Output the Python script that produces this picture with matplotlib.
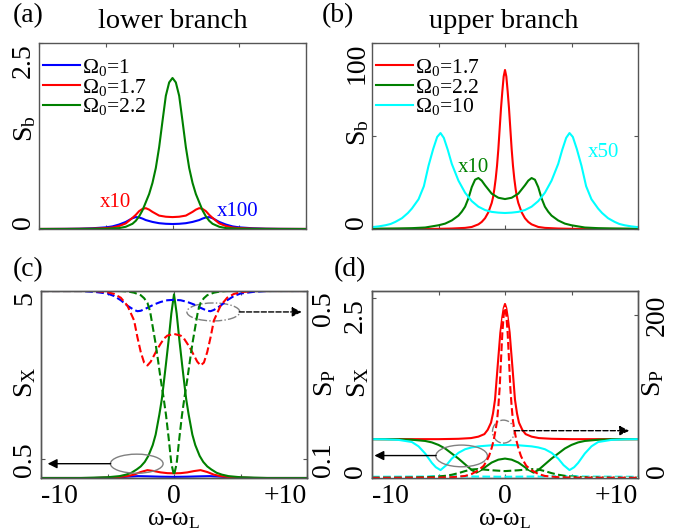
import matplotlib
matplotlib.use('Agg')
import matplotlib.pyplot as plt
from matplotlib.patches import Ellipse

plt.rcParams['font.family'] = 'Liberation Serif'
plt.rcParams['mathtext.fontset'] = 'custom'
plt.rcParams['mathtext.rm'] = 'Liberation Serif'
plt.rcParams['mathtext.it'] = 'Liberation Serif:italic'
plt.rcParams['mathtext.bf'] = 'Liberation Serif:bold'

# ---------------- datos ----------------
# (a) lower branch, S_b  (rojo x10, azul x100)
xa_blue = [-10, -8, -7, -6, -5, -4.5, -4, -3.5, -3.25, -3, -2.75, -2.5, -2.25, -2, -1.5, -1, -0.5,
           0, 0.5, 1, 1.5, 2, 2.25, 2.5, 2.75, 3, 3.25, 3.5, 4, 4.5, 5, 6, 7, 8, 10]
sa_blue = [0, 0.002, 0.004, 0.01, 0.022, 0.035, 0.06, 0.095, 0.12, 0.145, 0.16, 0.155, 0.14, 0.12, 0.095, 0.078, 0.07,
           0.067, 0.07, 0.078, 0.095, 0.12, 0.14, 0.155, 0.16, 0.145, 0.12, 0.095, 0.06, 0.035, 0.022, 0.01, 0.004, 0.002, 0]
xa_red = [-10, -8, -7, -6, -5, -4.5, -4, -3.5, -3, -2.75, -2.5, -2.25, -2, -1.75, -1.5, -1, -0.5,
          0, 0.5, 1, 1.5, 1.75, 2, 2.25, 2.5, 2.75, 3, 3.5, 4, 4.5, 5, 6, 7, 8, 10]
sa_red = [0.001, 0.002, 0.003, 0.005, 0.012, 0.02, 0.04, 0.075, 0.15, 0.19, 0.24, 0.27, 0.28, 0.26, 0.23, 0.18, 0.165,
          0.16, 0.165, 0.18, 0.23, 0.26, 0.28, 0.27, 0.24, 0.19, 0.15, 0.075, 0.04, 0.02, 0.012, 0.005, 0.003, 0.002, 0.001]
xa_green = [-10, -8, -7, -6, -5, -4, -3.5, -3, -2.75, -2.5, -2.25, -2, -1.75, -1.5, -1.25, -1, -0.75, -0.5, -0.25,
            0, 0.25, 0.5, 0.75, 1, 1.25, 1.5, 1.75, 2, 2.25, 2.5, 2.75, 3, 3.5, 4, 5, 6, 7, 8, 10]
sa_green = [0, 0, 0.001, 0.002, 0.004, 0.012, 0.03, 0.07, 0.11, 0.17, 0.25, 0.36, 0.47, 0.62, 0.82, 1.1, 1.45, 1.79, 1.97,
            2.03, 1.97, 1.79, 1.45, 1.1, 0.82, 0.62, 0.47, 0.36, 0.25, 0.17, 0.11, 0.07, 0.03, 0.012, 0.004, 0.002, 0.001, 0, 0]

# (b) upper branch, S_b  (verde x10, cian x50)
xb_red = [-10, -8, -6, -5, -4, -3, -2.5, -2, -1.75, -1.5, -1.25, -1, -0.9, -0.8, -0.7, -0.6, -0.5, -0.4, -0.3, -0.2, -0.1,
          0, 0.1, 0.2, 0.3, 0.4, 0.5, 0.6, 0.7, 0.8, 0.9, 1, 1.25, 1.5, 1.75, 2, 2.5, 3, 4, 5, 6, 8, 10]
sb_red = [0.05, 0.05, 0.05, 0.1, 0.25, 0.6, 1.1, 2.5, 3.8, 5.8, 9, 14, 17, 21.5, 27, 34, 43, 54, 65, 74, 82,
          85.5, 82, 74, 65, 54, 43, 34, 27, 21.5, 17, 14, 9, 5.8, 3.8, 2.5, 1.1, 0.6, 0.25, 0.1, 0.05, 0.05, 0.05]
xb_green = [-10, -9, -8, -7, -6, -5, -4.5, -4, -3.5, -3.25, -3, -2.75, -2.5, -2.25, -2, -1.75, -1.5, -1, -0.5,
            0, 0.5, 1, 1.5, 1.75, 2, 2.25, 2.5, 2.75, 3, 3.25, 3.5, 4, 4.5, 5, 6, 7, 8, 9, 10]
sb_green = [0.15, 0.2, 0.3, 0.45, 0.8, 2.0, 2.9, 4.6, 7.2, 9.3, 12, 16.5, 22.5, 26.5, 27.4, 26, 23.5, 19, 16.8,
            16.1, 16.8, 19, 23.5, 26, 27.4, 26.5, 22.5, 16.5, 12, 9.3, 7.2, 4.6, 2.9, 2.0, 0.8, 0.45, 0.3, 0.2, 0.15]
xb_cyan = [-10, -9.5, -9, -8.6, -8.25, -7.75, -7.3, -7, -6.5, -6.1, -5.75, -5.4, -5.1, -4.85, -4.6, -4.3, -4, -3.5, -3,
           -2.5, -2, -1.5, -1, -0.5, 0, 0.5, 1, 1.5, 2, 2.5, 3, 3.5, 4, 4.3, 4.6, 4.85, 5.1, 5.4, 5.75, 6.1, 6.5, 7,
           7.3, 7.75, 8.25, 8.6, 9, 9.5, 10]
sb_cyan = [1.0, 1.4, 2.0, 2.7, 3.8, 5.8, 8.6, 11, 16, 23, 34, 43, 49.5, 51.6, 49, 42.5, 35, 26, 19.5,
           15, 12, 10.2, 9.2, 8.8, 8.6, 8.8, 9.2, 10.2, 12, 15, 19.5, 26, 35, 42.5, 49, 51.6, 49.5, 43, 34, 23, 16, 11,
           8.6, 5.8, 3.8, 2.7, 2.0, 1.4, 1.0]

# (c) lower branch: S_X (solido, eje izq.) y S_P (discontinuo, eje der.)
xc_blue = [-10, -6, -5, -4, -3.5, -2.7, -2, -1, 0, 1, 2, 2.7, 3.5, 4, 5, 6, 10]
sxc_blue = [0, 0, 0.008, 0.02, 0.035, 0.05, 0.045, 0.035, 0.03, 0.035, 0.045, 0.05, 0.035, 0.02, 0.008, 0, 0]
xc_red = [-10, -6, -5, -4, -3.5, -3, -2.5, -2, -1.5, -1, -0.5, 0, 0.5, 1, 1.5, 2, 2.5, 3, 3.5, 4, 5, 6, 10]
sxc_red = [0, 0, 0.01, 0.03, 0.05, 0.09, 0.16, 0.21, 0.185, 0.15, 0.13, 0.125, 0.13, 0.15, 0.185, 0.21, 0.16,
           0.09, 0.05, 0.03, 0.01, 0, 0]
xc_green = [-10, -7, -6, -5, -4.1, -3.6, -3.2, -2.8, -2.5, -2.2, -1.93, -1.6, -1.38, -1.1, -0.92, -0.8, -0.62, -0.4, -0.2,
            0, 0.2, 0.4, 0.62, 0.8, 0.92, 1.1, 1.38, 1.6, 1.93, 2.2, 2.5, 2.8, 3.2, 3.6, 4.1, 5, 6, 7, 10]
sxc_green = [0, 0, 0.01, 0.02, 0.05, 0.09, 0.14, 0.23, 0.31, 0.43, 0.59, 0.88, 1.16, 1.7, 2.1, 2.45, 3.0, 3.7, 4.4,
             4.91, 4.4, 3.7, 3.0, 2.45, 2.1, 1.7, 1.16, 0.88, 0.59, 0.43, 0.31, 0.23, 0.14, 0.09, 0.05, 0.02, 0.01, 0, 0]
xpc_blue = [-10, -7, -6, -5, -4.5, -4, -3.5, -3, -2.75, -2.5, -2, -1.5, -1, -0.5,
            0, 0.5, 1, 1.5, 2, 2.5, 2.75, 3, 3.5, 4, 4.5, 5, 6, 7, 10]
spc_blue = [0.5, 0.5, 0.498, 0.494, 0.488, 0.478, 0.465, 0.455, 0.452, 0.453, 0.46, 0.468, 0.474, 0.478,
            0.479, 0.478, 0.474, 0.468, 0.46, 0.453, 0.452, 0.455, 0.465, 0.478, 0.488, 0.494, 0.498, 0.5, 0.5]
xpc_red = [-10, -6, -5, -4.5, -4, -3.5, -3, -2.75, -2.5, -2.25, -2, -1.75, -1.5, -1.25, -1, -0.75, -0.5,
           0, 0.5, 0.75, 1, 1.25, 1.5, 1.75, 2, 2.25, 2.5, 2.75, 3, 3.5, 4, 4.5, 5, 6, 10]
spc_red = [0.5, 0.5, 0.497, 0.493, 0.484, 0.465, 0.43, 0.39, 0.355, 0.33, 0.323, 0.332, 0.347, 0.362, 0.375, 0.387, 0.394,
           0.398, 0.394, 0.387, 0.375, 0.362, 0.347, 0.332, 0.323, 0.33, 0.355, 0.39, 0.43, 0.465, 0.484, 0.493, 0.497,
           0.5, 0.5]
xpc_green = [-10, -4, -3.5, -3, -2.5, -2.25, -2, -1.8, -1.6, -1.4, -1.2, -1, -0.8, -0.6, -0.4, -0.2,
             0, 0.2, 0.4, 0.6, 0.8, 1, 1.2, 1.4, 1.6, 1.8, 2, 2.25, 2.5, 3, 3.5, 4, 10]
spc_green = [0.5, 0.5, 0.499, 0.496, 0.49, 0.483, 0.472, 0.452, 0.415, 0.378, 0.335, 0.29, 0.25, 0.205, 0.15, 0.09,
             0.062, 0.09, 0.15, 0.205, 0.25, 0.29, 0.335, 0.378, 0.415, 0.452, 0.472, 0.483, 0.49, 0.496, 0.499, 0.5, 0.5]

# (d) upper branch: S_X (solido, eje izq.) y S_P (discontinuo, eje der.)
xd_red = [-10, -5, -3.5, -2.55, -2, -1.55, -1.3, -1.05, -0.9, -0.75, -0.55, -0.35, -0.2, -0.1,
          0, 0.1, 0.2, 0.35, 0.55, 0.75, 0.9, 1.05, 1.3, 1.55, 2, 2.55, 3.5, 5, 10]
sxd_red = [0.54, 0.54, 0.545, 0.555, 0.575, 0.61, 0.67, 0.77, 0.9, 1.09, 1.56, 2.02, 2.24, 2.36,
           2.42, 2.36, 2.24, 2.02, 1.56, 1.09, 0.9, 0.77, 0.67, 0.61, 0.575, 0.555, 0.545, 0.54, 0.54]
xd_green = [-10, -8, -7, -6, -5.5, -5, -4.5, -4, -3.5, -3, -2.75, -2.5, -2.15, -1.8, -1.5, -1, -0.5,
            0, 0.5, 1, 1.5, 1.8, 2.15, 2.5, 2.75, 3, 3.5, 4, 4.5, 5, 5.5, 6, 7, 8, 10]
sxd_green = [0.54, 0.538, 0.532, 0.515, 0.495, 0.46, 0.41, 0.34, 0.27, 0.19, 0.15, 0.11, 0.075, 0.11, 0.15, 0.215, 0.255,
             0.27, 0.255, 0.215, 0.15, 0.11, 0.075, 0.11, 0.15, 0.19, 0.27, 0.34, 0.41, 0.46, 0.495, 0.515, 0.532, 0.538,
             0.54]
xd_cyan = [-10, -9, -8, -7, -6.5, -6.25, -6, -5.5, -5.2, -4.85, -4.4, -4, -3.5, -3, -2.5, -2, -1,
           0, 1, 2, 2.5, 3, 3.5, 4, 4.4, 4.85, 5.2, 5.5, 6, 6.25, 6.5, 7, 8, 9, 10]
sxd_cyan = [0.54, 0.538, 0.53, 0.5, 0.44, 0.39, 0.34, 0.21, 0.15, 0.11, 0.18, 0.27, 0.35, 0.4, 0.425, 0.44, 0.455,
            0.46, 0.455, 0.44, 0.425, 0.4, 0.35, 0.27, 0.18, 0.11, 0.15, 0.21, 0.34, 0.39, 0.44, 0.5, 0.53, 0.538, 0.54]
xpd_red = [-10, -5, -4, -3, -2.5, -2.2, -2, -1.6, -1.35, -1.2, -1, -0.85, -0.7, -0.6, -0.5, -0.4, -0.28, -0.2, -0.1,
           0, 0.1, 0.2, 0.28, 0.4, 0.5, 0.6, 0.7, 0.85, 1, 1.2, 1.35, 1.6, 2, 2.2, 2.5, 3, 4, 5, 10]
spd_red = [0.3, 0.5, 1, 2.5, 5, 7.7, 9.5, 15, 22, 27, 37, 46.7, 60, 70, 88, 111, 152, 178, 200,
           209, 200, 178, 152, 111, 88, 70, 60, 46.7, 37, 27, 22, 15, 9.5, 7.7, 5, 2.5, 1, 0.5, 0.3]
xpd_green = [-10, -8, -7, -6, -5, -4.5, -4, -3.5, -3, -2.5, -2, -1, 0, 1, 2, 2.5, 3, 3.5, 4, 4.5, 5, 6, 7, 8, 10]
spd_green = [0.3, 0.4, 0.6, 1.0, 1.8, 2.7, 4, 6, 8.5, 10.5, 11, 9.5, 8.5, 9.5, 11, 10.5, 8.5, 6, 4, 2.7, 1.8, 1.0, 0.6,
             0.4, 0.3]
xpd_cyan = [-10, -6, -4.85, -3.5, 0, 3.5, 4.85, 6, 10]
spd_cyan = [1.5, 1.8, 2.5, 2.0, 1.5, 2.0, 2.5, 1.8, 1.5]

AZUL, ROJO, VERDE, CIAN = '#0000ff', '#ff0000', '#008000', '#00ffff'
GRIS = '#555555'
LW = 1.5

fig = plt.figure(figsize=(6.82, 5.32), dpi=100)


# ejes a partir de pixeles (izq, der, arriba, abajo)
def ejes_px(l, r, t, b):
    return fig.add_axes([l / 682, 1 - b / 532, (r - l) / 682, (b - t) / 532])


def marco(ax):
    for s in ax.spines.values():
        s.set_color(GRIS)
        s.set_linewidth(1.0)
    ax.tick_params(direction='in', length=3, width=0.8, color=GRIS, labelsize=20)


def eje_x(ax, etiquetas):
    ax.set_xlim(-10, 10)
    if etiquetas:
        ax.set_xticks([-10, -5, 0, 5, 10], ['-10', '', '0', '', '+10'])
        ticks = ax.xaxis.get_major_ticks()
        ticks[0].label1.set_ha('left')
        ticks[-1].label1.set_ha('right')
    else:
        ax.set_xticks([-10, -5, 0, 5, 10], [''] * 5)
    ax.tick_params(axis='x', top=True, pad=4)


def eje_y(ax, lim, ticks, labels, va, pad):
    ax.set_ylim(*lim)
    ax.set_yticks(ticks, labels)
    ax.tick_params(axis='y', labelrotation=90, pad=pad)
    for t, v in zip(ax.yaxis.get_major_ticks(), va):
        t.label1.set_va(v)
        t.label2.set_va(v)


def leyenda(ax):
    ax.legend(loc='upper left', bbox_to_anchor=(0.0, 0.95), frameon=False, fontsize=15.5,
              handlelength=1.7, handletextpad=0.1, labelspacing=-0.05, borderaxespad=0, borderpad=0.2)


# ---------------- (a) ----------------
ax_a = ejes_px(39, 306, 43, 229)
ax_a.plot(xa_blue, sa_blue, color=AZUL, lw=LW, label='Ω$_0$=1')
ax_a.plot(xa_red, sa_red, color=ROJO, lw=LW, label='Ω$_0$=1.7')
ax_a.plot(xa_green, sa_green, color=VERDE, lw=LW, label='Ω$_0$=2.2')
marco(ax_a)
eje_x(ax_a, False)
eje_y(ax_a, (0, 2.5), [0, 2.5], ['0', '2.5'], ['bottom', 'top'], 2)
ax_a.tick_params(axis='y', right=True)
ax_a.set_ylabel('S$_\\mathrm{b}$', fontsize=20)
ax_a.yaxis.label.set_va('center')
ax_a.yaxis.set_label_coords(-0.052, 0.54)
leyenda(ax_a)
ax_a.text(-4.25, 0.35, 'x10', color=ROJO, fontsize=15, ha='center', va='center')
ax_a.text(4.85, 0.23, 'x100', color=AZUL, fontsize=15, ha='center', va='center')

# ---------------- (b) ----------------
ax_b = ejes_px(372, 638, 43, 229)
ax_b.plot(xb_red, sb_red, color=ROJO, lw=LW, label='Ω$_0$=1.7')
ax_b.plot(xb_green, sb_green, color=VERDE, lw=LW, label='Ω$_0$=2.2')
ax_b.plot(xb_cyan, sb_cyan, color=CIAN, lw=LW, label='Ω$_0$=10')
marco(ax_b)
eje_x(ax_b, False)
eje_y(ax_b, (0, 100), [0, 50, 100], ['0', '', '100'], ['bottom', 'center', 'top'], 2)
ax_b.tick_params(axis='y', right=True)
ax_b.set_ylabel('S$_\\mathrm{b}$', fontsize=20)
ax_b.yaxis.label.set_va('center')
ax_b.yaxis.set_label_coords(-0.053, 0.52)
leyenda(ax_b)
ax_b.text(-2.4, 33.3, 'x10', color=VERDE, fontsize=15, ha='center', va='center')
ax_b.text(7.44, 40.9, 'x50', color=CIAN, fontsize=15, ha='center', va='center')

# ---------------- (c) ----------------
ax_c = ejes_px(41, 307, 291, 478)
ax_c.plot(xc_blue, sxc_blue, color=AZUL, lw=LW)
ax_c.plot(xc_red, sxc_red, color=ROJO, lw=LW)
ax_c.plot(xc_green, sxc_green, color=VERDE, lw=LW)
ax_c2 = ax_c.twinx()
ax_c2.plot(xpc_blue, spc_blue, color=AZUL, lw=LW, ls='--')
ax_c2.plot(xpc_red, spc_red, color=ROJO, lw=LW, ls='--')
ax_c2.plot(xpc_green, spc_green, color=VERDE, lw=LW, ls='--')
for ax in (ax_c, ax_c2):
    marco(ax)
eje_x(ax_c, True)
eje_y(ax_c, (0, 5), [0.5, 5], ['0.5', '5'], ['center', 'top'], 3)
eje_y(ax_c2, (0.0556, 0.5), [0.1, 0.5], ['0.1', '0.5'], ['center', 'top'], 3)
ax_c.set_ylabel('S$_\\mathrm{X}$', fontsize=20)
ax_c.yaxis.label.set_va('center')
ax_c.yaxis.set_label_coords(-0.06, 0.51)
ax_c2.set_ylabel('S$_\\mathrm{P}$', fontsize=20, rotation=90)
ax_c2.yaxis.label.set_va('center')
ax_c2.yaxis.set_label_coords(1.068, 0.51)
ax_c.set_xlabel('ω-ω$_\\mathrm{L}$', fontsize=18, labelpad=0)

# elipses y flechas de (c)
ax_c2.add_patch(Ellipse((0.648, 0.888), 0.199, 0.096, transform=ax_c2.transAxes,
                        fill=False, ec='gray', lw=1, ls='-.'))
ax_c2.annotate('', xy=(0.98, 0.888), xytext=(0.745, 0.888), xycoords='axes fraction',
               arrowprops=dict(arrowstyle='-|>', color='k', lw=1, ls='--', mutation_scale=14,
                               shrinkA=0, shrinkB=0))
ax_c2.add_patch(Ellipse((0.36, 0.0765), 0.198, 0.102, transform=ax_c2.transAxes,
                        fill=False, ec='gray', lw=1))
ax_c2.annotate('', xy=(0.025, 0.0765), xytext=(0.262, 0.0765), xycoords='axes fraction',
               arrowprops=dict(arrowstyle='-|>', color='k', lw=1, mutation_scale=14,
                               shrinkA=0, shrinkB=0))

# ---------------- (d) ----------------
ax_d = ejes_px(372, 638, 291, 478)
ax_d.plot(xd_red, sxd_red, color=ROJO, lw=LW)
ax_d.plot(xd_green, sxd_green, color=VERDE, lw=LW)
ax_d.plot(xd_cyan, sxd_cyan, color=CIAN, lw=LW)
ax_d2 = ax_d.twinx()
ax_d2.plot(xpd_cyan, spd_cyan, color=CIAN, lw=LW, ls='--')
ax_d2.plot(xpd_green, spd_green, color=VERDE, lw=LW, ls='--')
ax_d2.plot(xpd_red, spd_red, color=ROJO, lw=LW, ls='--', gapcolor='white')
for ax in (ax_d, ax_d2):
    marco(ax)
eje_x(ax_d, True)
eje_y(ax_d, (0, 2.6), [0, 2.5], ['0', '2.5'], ['bottom', 'top'], 3)
eje_y(ax_d2, (0, 230), [0, 200], ['0', '200'], ['bottom', 'center'], 5)
ax_d.set_ylabel('S$_\\mathrm{X}$', fontsize=20)
ax_d.yaxis.label.set_va('center')
ax_d.yaxis.set_label_coords(-0.053, 0.51)
ax_d2.set_ylabel('S$_\\mathrm{P}$', fontsize=20, rotation=90)
ax_d2.yaxis.label.set_va('center')
ax_d2.yaxis.set_label_coords(1.056, 0.51)
ax_d.set_xlabel('ω-ω$_\\mathrm{L}$', fontsize=18, labelpad=0)

ax_d2.add_patch(Ellipse((0.337, 0.118), 0.194, 0.116, transform=ax_d2.transAxes,
                        fill=False, ec='gray', lw=1))
ax_d2.annotate('', xy=(0.009, 0.12), xytext=(0.241, 0.12), xycoords='axes fraction',
               arrowprops=dict(arrowstyle='-|>', color='k', lw=1, mutation_scale=14,
                               shrinkA=0, shrinkB=0))
ax_d2.add_patch(Ellipse((0.494, 0.248), 0.082, 0.123, transform=ax_d2.transAxes,
                        fill=False, ec='gray', lw=1, ls='-.'))
ax_d2.annotate('', xy=(0.967, 0.253), xytext=(0.536, 0.253), xycoords='axes fraction',
               arrowprops=dict(arrowstyle='-|>', color='k', lw=1, ls='--', mutation_scale=14,
                               shrinkA=0, shrinkB=0))

# titulos y letras de panel
fig.text(173 / 682, 1 - 22 / 532, 'lower branch', ha='center', va='center', fontsize=20.5)
fig.text(504 / 682, 1 - 22 / 532, 'upper branch', ha='center', va='center', fontsize=20.5)
fig.text(28 / 682, 1 - 16 / 532, '(a)', ha='center', va='center', fontsize=20)
fig.text(338 / 682, 1 - 16 / 532, '(b)', ha='center', va='center', fontsize=20)
fig.text(28 / 682, 1 - 270 / 532, '(c)', ha='center', va='center', fontsize=20)
fig.text(350 / 682, 1 - 270 / 532, '(d)', ha='center', va='center', fontsize=20)

fig.savefig('out.png', dpi=100)
